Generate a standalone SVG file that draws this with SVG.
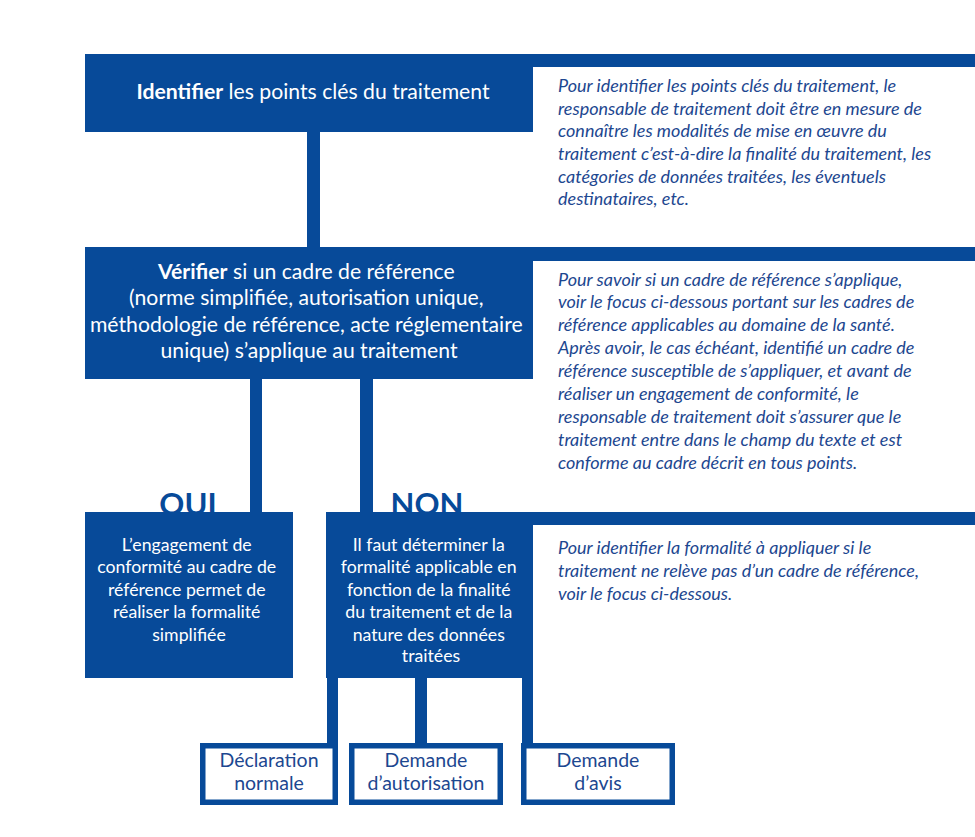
<svg xmlns="http://www.w3.org/2000/svg" width="975" height="837" viewBox="0 0 975 837">
<style>
  .blue{fill:#074a99}
  .bt{font-family:Lato,"Open Sans",sans-serif;fill:#ffffff;text-anchor:middle}
  .it{font-family:Lato,"Open Sans",sans-serif;font-style:italic;fill:#1d4790;font-size:18px}
  .yn{font-family:Lato,"Open Sans",sans-serif;font-weight:bold;fill:#074a99;font-size:31px;text-anchor:middle}
  .ob{fill:#ffffff;stroke:#074a99;stroke-width:5.5}
  .ot{font-family:Lato,"Open Sans",sans-serif;fill:#1d4790;font-size:19.5px;text-anchor:middle}
</style>
<rect width="975" height="837" fill="#ffffff"/>

<g id="connectors" class="blue">
  <rect x="307" y="130" width="13" height="120"/>
  <rect x="250" y="377" width="12" height="137"/>
  <rect x="360" y="377" width="13" height="137"/>
  <rect x="327" y="676" width="11" height="70"/>
  <rect x="415" y="676" width="12" height="70"/>
  <rect x="522" y="676" width="11" height="70"/>
</g>

<g id="labels">
  <text class="yn" x="188" y="515">OUI</text>
  <text class="yn" x="427" y="515">NON</text>
</g>

<g id="node-identifier">
  <rect class="blue" x="85" y="54" width="448" height="78"/>
  <rect class="blue" x="533" y="54" width="442" height="13"/>
  <text class="bt" x="313" y="99" font-size="21.2"><tspan font-weight="bold">Identifier</tspan> les points clés du traitement</text>
</g>
<g id="note-identifier">
  <text class="it" x="558" y="92">Pour identifier les points clés du traitement, le</text>
  <text class="it" x="558" y="115">responsable de traitement doit être en mesure de</text>
  <text class="it" x="558" y="137">connaître les modalités de mise en œuvre du</text>
  <text class="it" x="558" y="160">traitement c’est-à-dire la finalité du traitement, les</text>
  <text class="it" x="558" y="183">catégories de données traitées, les éventuels</text>
  <text class="it" x="558" y="205">destinataires, etc.</text>
</g>

<g id="node-verifier">
  <rect class="blue" x="85" y="247" width="448" height="132"/>
  <rect class="blue" x="533" y="247" width="442" height="14"/>
  <text class="bt" font-size="21.2">
    <tspan x="309" y="279"><tspan font-weight="bold">Vérifier</tspan> si un cadre de référence</tspan>
    <tspan x="309" y="305">(norme simplifiée, autorisation unique,</tspan>
    <tspan x="309" y="332">méthodologie de référence, acte réglementaire</tspan>
    <tspan x="309" y="358">unique) s’applique au traitement</tspan>
  </text>
</g>
<g id="note-verifier">
  <text class="it" x="558" y="286">Pour savoir si un cadre de référence s’applique,</text>
  <text class="it" x="558" y="308">voir le focus ci-dessous portant sur les cadres de</text>
  <text class="it" x="558" y="331">référence applicables au domaine de la santé.</text>
  <text class="it" x="558" y="354">Après avoir, le cas échéant, identifié un cadre de</text>
  <text class="it" x="558" y="377">référence susceptible de s’appliquer, et avant de</text>
  <text class="it" x="558" y="400">réaliser un engagement de conformité, le</text>
  <text class="it" x="558" y="423">responsable de traitement doit s’assurer que le</text>
  <text class="it" x="558" y="446">traitement entre dans le champ du texte et est</text>
  <text class="it" x="558" y="469">conforme au cadre décrit en tous points.</text>
</g>

<g id="node-oui">
  <rect class="blue" x="85" y="512" width="208" height="166"/>
  <text class="bt" font-size="17.7">
    <tspan x="189" y="551">L’engagement de</tspan>
    <tspan x="189" y="573">conformité au cadre de</tspan>
    <tspan x="189" y="596">référence permet de</tspan>
    <tspan x="189" y="618">réaliser la formalité</tspan>
    <tspan x="189" y="641">simplifiée</tspan>
  </text>
</g>

<g id="node-non">
  <rect class="blue" x="326" y="512" width="207" height="166"/>
  <rect class="blue" x="533" y="512" width="442" height="13"/>
  <text class="bt" font-size="17.7">
    <tspan x="431" y="551">Il faut déterminer la</tspan>
    <tspan x="431" y="573">formalité applicable en</tspan>
    <tspan x="431" y="596">fonction de la finalité</tspan>
    <tspan x="431" y="618">du traitement et de la</tspan>
    <tspan x="431" y="641">nature des données</tspan>
    <tspan x="431" y="662">traitées</tspan>
  </text>
</g>
<g id="note-non">
  <text class="it" x="558" y="554">Pour identifier la formalité à appliquer si le</text>
  <text class="it" x="558" y="577">traitement ne relève pas d’un cadre de référence,</text>
  <text class="it" x="558" y="600">voir le focus ci-dessous.</text>
</g>

<g id="node-declaration">
  <rect class="ob" x="202.75" y="745.75" width="132.5" height="56.5"/>
  <text class="ot"><tspan x="269" y="767">Déclaration</tspan><tspan x="269" y="790">normale</tspan></text>
</g>
<g id="node-autorisation">
  <rect class="ob" x="351.75" y="745.75" width="148.5" height="56.5"/>
  <text class="ot"><tspan x="426" y="767">Demande</tspan><tspan x="426" y="790">d’autorisation</tspan></text>
</g>
<g id="node-avis">
  <rect class="ob" x="523.75" y="745.75" width="148.5" height="56.5"/>
  <text class="ot"><tspan x="598" y="767">Demande</tspan><tspan x="598" y="790">d’avis</tspan></text>
</g>
</svg>
